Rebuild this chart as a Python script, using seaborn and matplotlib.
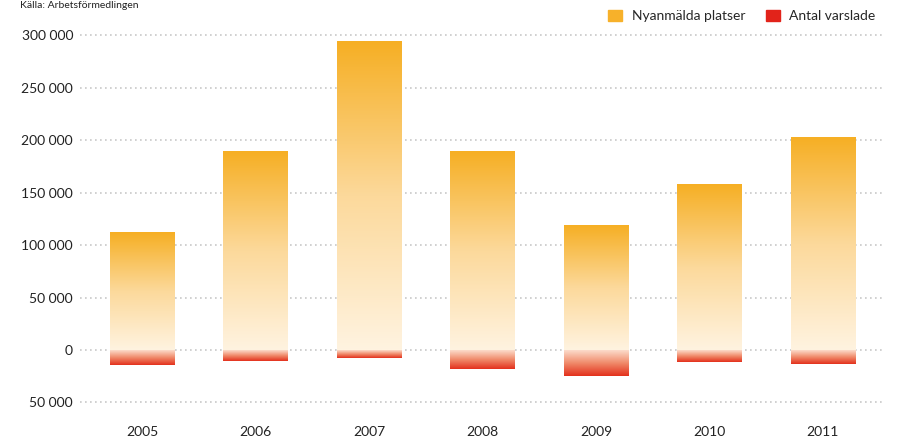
import numpy as np
import pandas as pd
import seaborn as sns
import matplotlib.pyplot as plt
from matplotlib.colors import LinearSegmentedColormap
from matplotlib.patches import Patch
from matplotlib.ticker import FuncFormatter

years = ["2005", "2006", "2007", "2008", "2009", "2010", "2011"]
platser = [112000, 189000, 294000, 189000, 119000, 158000, 202000]
varslade = [14000, 10000, 7500, 18000, 24500, 11000, 13000]

ORANGE = "#F7B12A"
RED = "#E2231A"

sns.set_style("white")
plt.rcParams["font.family"] = ["Lato", "DejaVu Sans"]

df = pd.DataFrame({
    "year": years * 2,
    "value": platser + [-v for v in varslade],
    "type": ["Nyanmälda platser"] * len(years) + ["Antal varslade"] * len(years),
})

fig = plt.figure(figsize=(8.99, 4.41), dpi=100)
ax = fig.add_axes([0.089, 0.0754, 0.892, 0.857])

sns.barplot(data=df, x="year", y="value", hue="type", dodge=False, width=0.57,
            palette={"Nyanmälda platser": ORANGE, "Antal varslade": RED},
            legend=False, ax=ax)

# vertical gradient fill for each bar
cm_up = LinearSegmentedColormap.from_list("up", ["#FFF3E0", "#FCD99B", "#F6AF24"])
cm_dn = LinearSegmentedColormap.from_list("dn", ["#E3301C", "#F08A6A", "#FCDCCB"])
grad = np.linspace(0, 1, 256).reshape(-1, 1)

for p in list(ax.patches):
    x0, y0 = p.get_x(), p.get_y()
    w, h = p.get_width(), p.get_height()
    if h == 0 or np.isnan(h):
        continue
    cmap = cm_up if h > 0 else cm_dn
    ax.imshow(grad, cmap=cmap, aspect="auto", origin="lower",
              extent=(x0, x0 + w, min(y0, y0 + h), max(y0, y0 + h)),
              zorder=3, interpolation="bilinear")
    p.set_visible(False)

ax.set_xlim(-0.55, 6.52)
ax.set_ylim(-55000, 305000)
ax.set_yticks([-50000, 0, 50000, 100000, 150000, 200000, 250000, 300000])
ax.yaxis.set_major_formatter(FuncFormatter(lambda v, _: f"{abs(int(v)):,}".replace(",", " ")))
ax.grid(axis="y", color="#c8c8c8", linestyle=(0, (1, 2)), linewidth=1.2)
ax.grid(axis="x", visible=False)
ax.set_axisbelow(True)
ax.set_xlabel("")
ax.set_ylabel("")
sns.despine(left=True, bottom=True)
ax.tick_params(axis="y", length=0, pad=5, labelsize=10, labelcolor="#222222")
ax.tick_params(axis="x", length=0, pad=13, labelsize=10, labelcolor="#222222")

handles = [Patch(color=ORANGE, label="Nyanmälda platser"),
           Patch(color=RED, label="Antal varslade")]
fig.legend(handles=handles, loc="upper right", bbox_to_anchor=(0.988, 1.005), ncol=2,
           frameon=False, fontsize=10, handlelength=1.0, handleheight=0.8,
           columnspacing=1.5, handletextpad=0.7)

fig.text(0.022, 0.998, "Källa: Arbetsförmedlingen", fontsize=7.5, color="#222222",
         ha="left", va="top")

fig.savefig("out.png", dpi=100)
